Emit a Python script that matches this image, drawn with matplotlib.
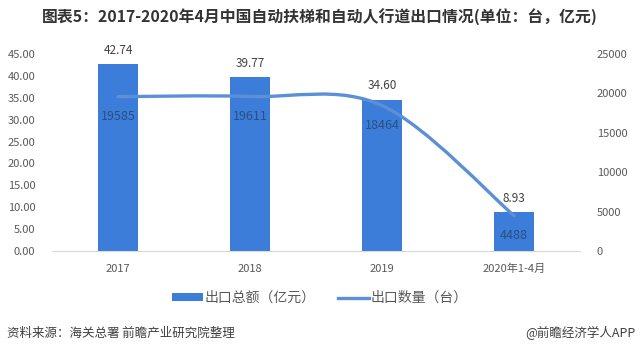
import matplotlib
matplotlib.use("Agg")
import matplotlib.pyplot as plt
from matplotlib.path import Path
from matplotlib.patches import PathPatch, Patch
from matplotlib.lines import Line2D

plt.rcParams['font.family'] = ['Noto Sans CJK SC', 'DejaVu Sans']

categories = ['2017', '2018', '2019', '2020年1-4月']
amounts = [42.74, 39.77, 34.60, 8.93]          # 出口总额（亿元）
quantities = [19585, 19611, 18464, 4488]       # 出口数量（台）
left_ticks = [0, 5, 10, 15, 20, 25, 30, 35, 40, 45]
right_ticks = [0, 5000, 10000, 15000, 20000, 25000]

bar_color = '#3b7dd8'
line_color = '#5b90d6'
tick_color = '#595959'

fig = plt.figure(figsize=(6.4, 3.56), dpi=100)
ax = fig.add_axes([52/640, 1-251/356, (580-52)/640, (251-54)/356])
ax2 = ax.twinx()

x = list(range(len(categories)))
bars = ax.bar(x, amounts, width=0.31, color=bar_color, zorder=2)
ax.set_xlim(-0.5, len(categories) - 0.5)
ax.set_ylim(0, 45)
ax.set_yticks(left_ticks)
ax.set_yticklabels([f'{v:.2f}' for v in left_ticks])
ax.set_xticks(x)
ax.set_xticklabels(categories)

for xi, v in zip(x, amounts):
    ax.annotate(f'{v:.2f}', (xi, v), xytext=(0, 10), textcoords='offset points',
                ha='center', va='center', fontsize=8.5, color='#404040')

# smooth line (Catmull-Rom style Bezier through data points)
pts = list(zip(x, quantities))
verts = [pts[0]]
codes = [Path.MOVETO]
n = len(pts)
for i in range(n - 1):
    p0 = pts[max(i - 1, 0)]
    p1 = pts[i]
    p2 = pts[i + 1]
    p3 = pts[min(i + 2, n - 1)]
    c1 = (p1[0] + (p2[0] - p0[0]) / 6, p1[1] + (p2[1] - p0[1]) / 6)
    c2 = (p2[0] - (p3[0] - p1[0]) / 6, p2[1] - (p3[1] - p1[1]) / 6)
    verts += [c1, c2, p2]
    codes += [Path.CURVE4] * 3
ax2.add_patch(PathPatch(Path(verts, codes), facecolor='none', edgecolor=line_color,
                        lw=2.4, capstyle='round', zorder=3))
ax2.set_ylim(0, 25000)
ax2.set_yticks(right_ticks)
ax2.set_yticklabels([str(v) for v in right_ticks])

for xi, v in zip(x, quantities):
    ax2.annotate(f'{v}', (xi, v), xytext=(0, -14.5), textcoords='offset points',
                 ha='center', va='center', fontsize=9, color='#2b4f86')

for a in (ax, ax2):
    for s in a.spines.values():
        s.set_visible(False)
    a.tick_params(length=0, colors=tick_color, labelsize=8)
ax.spines['bottom'].set_visible(True)
ax.spines['bottom'].set_color('#d9d9d9')
ax.tick_params(axis='y', pad=12)
ax.tick_params(axis='x', pad=9)
ax2.tick_params(axis='y', pad=12)

fig.text(0.5, 1 - 17/356, '图表5：2017-2020年4月中国自动扶梯和自动人行道出口情况(单位：台，亿元)',
         ha='center', va='center', fontsize=11.4, fontweight='bold', color='#333333')

handles = [Patch(facecolor=bar_color, edgecolor='none'),
           Line2D([0], [0], color=line_color, lw=2.4)]
fig.legend(handles, ['出口总额（亿元）', '出口数量（台）'], loc='center',
           bbox_to_anchor=(0.5, 1 - 298/356), ncol=2, frameon=False,
           fontsize=10, handlelength=2.2, handleheight=0.45, columnspacing=1.6,
           handletextpad=0.15, labelcolor=tick_color)

fig.text(7/640, 1 - 333/356, '资料来源：海关总署 前瞻产业研究院整理', ha='left', va='center',
         fontsize=9, color='#404040')
fig.text(636/640, 1 - 333/356, '@前瞻经济学人APP', ha='right', va='center',
         fontsize=9, color='#404040')

fig.savefig('out.png', dpi=100)
